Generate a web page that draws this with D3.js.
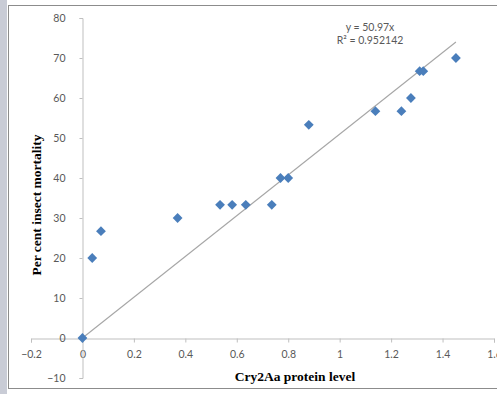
<!DOCTYPE html>
<html><head><meta charset="utf-8">
<script src="https://cdn.jsdelivr.net/npm/d3@7"></script>
<style>
html,body{margin:0;padding:0;background:#fff;}
svg{display:block;}
</style></head>
<body>
<svg id="c" width="497" height="394"></svg>
<script>
const proteinLevel = [0, 0.038, 0.072, 0.37, 0.535, 0.582, 0.635, 0.736, 0.77, 0.80, 0.88, 1.139, 1.24, 1.277, 1.311, 1.325, 1.452];
const mortality   = [0, 20, 26.7, 30, 33.3, 33.3, 33.3, 33.3, 40, 40, 53.3, 56.7, 56.7, 60, 66.7, 66.7, 70];
const xTicks = [-0.2, 0, 0.2, 0.4, 0.6, 0.8, 1, 1.2, 1.4, 1.6];
const yTicks = [-10, 0, 10, 20, 30, 40, 50, 60, 70, 80];
const slope = 50.97;
const eqLines = ["y = 50.97x", "R\u00B2 = 0.952142"];
const xTitle = "Cry2Aa protein level";
const yTitle = "Per cent insect mortality";

const svg = d3.select("#c");
// left grey window strip
svg.append("rect").attr("x",0).attr("y",0).attr("width",7).attr("height",394).attr("fill","#c9ccd6");
// chart border
svg.append("rect").attr("x",8.5).attr("y",5.5).attr("width",500).attr("height",383)
  .attr("fill","#fff").attr("stroke","#8c8c8c").attr("stroke-width",1);

const x = d3.scaleLinear().domain([-0.2, 1.6]).range([31, 494]);
const y = d3.scaleLinear().domain([-10, 80]).range([378, 18]);

const axisColor = "#bfbfbf";
const labelColor = "#595959";
const tickFont = "Lato, 'Open Sans', sans-serif";

// x axis at y=0
const gx = svg.append("g").attr("transform",`translate(0,${Math.round(y(0))+0.5})`)
  .call(d3.axisBottom(x).tickValues(xTicks).tickSize(4).tickPadding(8).tickFormat(d3.format("")));
gx.select(".domain").attr("stroke",axisColor);
gx.selectAll(".tick line").attr("stroke",axisColor);
gx.selectAll(".tick text").attr("fill",labelColor).attr("font-family",tickFont).attr("font-size",10.5);

// y axis at x=0
const gy = svg.append("g").attr("transform",`translate(${Math.round(x(0))+0.5},0)`)
  .call(d3.axisLeft(y).tickValues(yTicks).tickSize(3).tickPadding(14).tickFormat(d3.format("")));
gy.select(".domain").attr("stroke",axisColor);
gy.selectAll(".tick line").attr("stroke",axisColor);
gy.selectAll(".tick text").attr("fill",labelColor).attr("font-family",tickFont).attr("font-size",10.5);

// trendline
const xMax = d3.max(proteinLevel);
svg.append("line")
  .attr("x1",x(0)).attr("y1",y(0)).attr("x2",x(xMax)).attr("y2",y(slope*xMax))
  .attr("stroke","#a6a6a6").attr("stroke-width",1.1);

// markers (diamonds)
svg.append("g").selectAll("path").data(proteinLevel.map((v,i)=>[v,mortality[i]]))
  .join("path")
  .attr("d",d3.symbol().type(d3.symbolSquare).size(48))
  .attr("transform",d=>`translate(${x(d[0])},${y(d[1])}) rotate(45)`)
  .attr("fill","#4a7ebb");

// equation
const eq = svg.append("text").attr("font-family",tickFont).attr("font-size",10.5).attr("fill",labelColor).attr("text-anchor","middle");
eq.selectAll("tspan").data(eqLines).join("tspan").attr("x",370).attr("y",(d,i)=>31+i*13).text(d=>d);

// axis titles
svg.append("text").attr("x",295).attr("y",381).attr("text-anchor","middle")
  .attr("font-family","'Liberation Serif','Times New Roman',serif").attr("font-weight","bold").attr("font-size",13.5)
  .attr("fill","#000").text(xTitle);
svg.append("text").attr("transform","translate(41,205) rotate(-90)").attr("text-anchor","middle")
  .attr("font-family","'Liberation Serif','Times New Roman',serif").attr("font-weight","bold").attr("font-size",13.5)
  .attr("fill","#000").text(yTitle);
</script>
</body></html>
